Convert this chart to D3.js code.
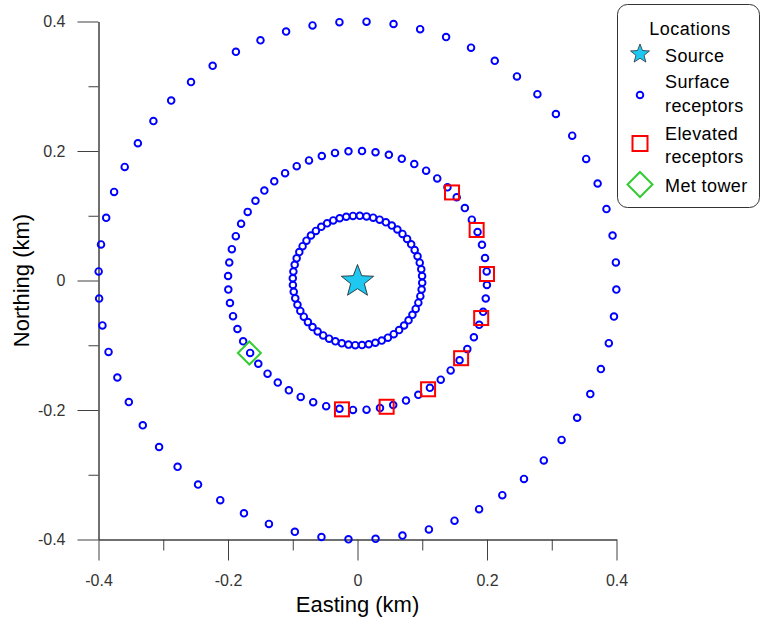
<!DOCTYPE html>
<html>
<head>
<meta charset="utf-8">
<script src="https://cdn.jsdelivr.net/npm/d3@7"></script>
<style>
  html, body { margin: 0; padding: 0; background: #fff; }
  svg { display: block; font-family: "Liberation Sans", Arial, sans-serif; }
</style>
</head>
<body>
<svg id="chart" width="761" height="617"></svg>
<script>
// ---- Receptor network (km, relative to the source) ----
// Polar receptor grid: ring distances and the compass bearings (deg) used on every ring
const ringRadiiKm = [0.1, 0.2, 0.4];
const gridBearings = [
  2, 8, 14, 20, 26, 32, 38, 44, 50, 56, 62, 68, 74, 80, 86, 92, 98, 104, 110, 116,
  122, 128, 134, 140, 146, 152, 158, 164, 170, 176, 182, 188, 194, 200, 206, 212,
  218, 224, 230, 236, 242, 248, 254, 260, 266, 272, 278, 284, 290, 296, 302, 308,
  314, 320, 326, 332, 338, 344, 350, 356
];

// Source location
const sourceX = [0];
const sourceY = [0];

// Elevated receptors
const elevatedX = [0.146, 0.184, 0.200, 0.191, 0.160, 0.109, 0.045, -0.024];
const elevatedY = [0.136, 0.078, 0.010, -0.058, -0.120, -0.168, -0.195, -0.199];

// Meteorological tower
const metX = [-0.167];
const metY = [-0.112];

// Axis ticks
const majorTicks = [-0.4, -0.2, 0, 0.2, 0.4];
const majorTickLabels = ["-0.4", "-0.2", "0", "0.2", "0.4"];
const minorTicks = [-0.3, -0.1, 0.1, 0.3];

const legendTitle = "Locations";
const legendItems = [
  { key: "source", lines: ["Source"] },
  { key: "surface", lines: ["Surface", "receptors"] },
  { key: "elevated", lines: ["Elevated", "receptors"] },
  { key: "met", lines: ["Met tower"] }
];

// ---- Styles ----
const surfaceColor = "#0000ff";
const elevatedColor = "#ff0000";
const metColor = "#33cc33";
const sourceColor = "#1ec8f0";
const axisColor = "#404040";
const tickTextColor = "#333";

const svg = d3.select("#chart");

const x = d3.scaleLinear().domain([-0.4, 0.4]).range([98.5, 616.5]);
const y = d3.scaleLinear().domain([-0.4, 0.4]).range([539.5, 21.5]);

// Surface receptor points from the polar grid
const surfacePts = [];
ringRadiiKm.forEach(r => {
  gridBearings.forEach(b => {
    const a = b * Math.PI / 180;
    surfacePts.push({ x: r * Math.sin(a), y: r * Math.cos(a) });
  });
});

function starPath(R, ri) {
  const pts = [];
  for (let i = 0; i < 10; i++) {
    const rad = i % 2 === 0 ? R : ri;
    const a = -Math.PI / 2 + i * Math.PI / 5;
    pts.push([rad * Math.cos(a), rad * Math.sin(a)]);
  }
  return "M" + pts.map(p => p[0].toFixed(2) + "," + p[1].toFixed(2)).join("L") + "Z";
}
function diamondPath(h) {
  return `M0,${-h}L${h},0L0,${h}L${-h},0Z`;
}

// ---- Axes ----
function styleAxis(g) {
  g.selectAll("path.domain").attr("stroke", axisColor).attr("stroke-width", 1);
  g.selectAll(".tick line").attr("stroke", axisColor).attr("stroke-width", 1);
  g.selectAll(".tick text")
    .attr("fill", tickTextColor)
    .style("font-size", "16px")
    .style("font-family", "'Liberation Sans', Arial, sans-serif");
}

const xAxisMajor = d3.axisBottom(x).tickValues(majorTicks)
  .tickFormat((d, i) => majorTickLabels[i]).tickSize(21).tickSizeOuter(0).tickPadding(14);
const xAxisMinor = d3.axisBottom(x).tickValues(minorTicks)
  .tickFormat("").tickSize(11).tickSizeOuter(0);
const yAxisMajor = d3.axisLeft(y).tickValues(majorTicks)
  .tickFormat((d, i) => majorTickLabels[i]).tickSize(21).tickSizeOuter(0).tickPadding(12);
const yAxisMinor = d3.axisLeft(y).tickValues(minorTicks)
  .tickFormat("").tickSize(10).tickSizeOuter(0);

const gx = svg.append("g").attr("transform", `translate(0,${y(-0.4)})`);
gx.append("g").call(xAxisMajor).call(styleAxis);
gx.append("g").call(xAxisMinor).call(styleAxis);

const gy = svg.append("g").attr("transform", `translate(${x(-0.4)},0)`);
gy.append("g").call(yAxisMajor).call(styleAxis);
gy.append("g").call(yAxisMinor).call(styleAxis);

svg.selectAll(".domain").attr("fill", "none");

// Axis titles
svg.append("text")
  .attr("x", x(0)).attr("y", 612)
  .attr("text-anchor", "middle")
  .style("font-size", "22px").attr("fill", "#000")
  .text("Easting (km)");

svg.append("text")
  .attr("transform", `translate(29,${y(0)}) rotate(-90)`)
  .attr("text-anchor", "middle")
  .style("font-size", "22px").attr("fill", "#000")
  .text("Northing (km)");

// ---- Marks ----
const plot = svg.append("g");

plot.selectAll("circle.surface")
  .data(surfacePts)
  .join("circle")
  .attr("class", "surface")
  .attr("cx", d => x(d.x))
  .attr("cy", d => y(d.y))
  .attr("r", 3.3)
  .attr("fill", "none")
  .attr("stroke", surfaceColor)
  .attr("stroke-width", 1.9);

plot.selectAll("rect.elevated")
  .data(elevatedX.map((v, i) => ({ x: v, y: elevatedY[i] })))
  .join("rect")
  .attr("class", "elevated")
  .attr("x", d => x(d.x) - 7)
  .attr("y", d => y(d.y) - 7)
  .attr("width", 14)
  .attr("height", 14)
  .attr("fill", "none")
  .attr("stroke", elevatedColor)
  .attr("stroke-width", 2);

plot.selectAll("path.met")
  .data(metX.map((v, i) => ({ x: v, y: metY[i] })))
  .join("path")
  .attr("class", "met")
  .attr("transform", d => `translate(${x(d.x)},${y(d.y)})`)
  .attr("d", diamondPath(11.5))
  .attr("fill", "none")
  .attr("stroke", metColor)
  .attr("stroke-width", 2);

plot.selectAll("path.source")
  .data(sourceX.map((v, i) => ({ x: v, y: sourceY[i] })))
  .join("path")
  .attr("class", "source")
  .attr("transform", d => `translate(${x(d.x)},${y(d.y) + 1})`)
  .attr("d", starPath(17, 7.2))
  .attr("fill", sourceColor)
  .attr("stroke", "#1a1a1a")
  .attr("stroke-width", 0.8);

// ---- Legend ----
const lg = svg.append("g");
lg.append("rect")
  .attr("x", 617.5).attr("y", 4.5)
  .attr("width", 142).attr("height", 203)
  .attr("rx", 10).attr("ry", 10)
  .attr("fill", "#fff")
  .attr("stroke", "#333").attr("stroke-width", 1);

lg.append("text")
  .attr("x", 690).attr("y", 34.5)
  .attr("text-anchor", "middle")
  .style("font-size", "18px").style("letter-spacing", "0.5px")
  .attr("fill", "#000")
  .text(legendTitle);

const rowBaselines = { source: [62], surface: [88, 111.5], elevated: [140, 162.5], met: [192] };
const iconY = { source: 53, surface: 95, elevated: 143.5, met: 184.5 };
const iconX = 640;
const textX = 665;

legendItems.forEach(item => {
  item.lines.forEach((ln, j) => {
    lg.append("text")
      .attr("x", textX).attr("y", rowBaselines[item.key][j])
      .style("font-size", "18px").style("letter-spacing", "0.4px")
      .attr("fill", "#000")
      .text(ln);
  });
  const cy = iconY[item.key];
  if (item.key === "source") {
    lg.append("path").attr("transform", `translate(${iconX},${cy + 1})`)
      .attr("d", starPath(10, 4.3))
      .attr("fill", sourceColor).attr("stroke", "#1a1a1a").attr("stroke-width", 0.7);
  } else if (item.key === "surface") {
    lg.append("circle").attr("cx", iconX).attr("cy", cy).attr("r", 3.3)
      .attr("fill", "none").attr("stroke", surfaceColor).attr("stroke-width", 1.9);
  } else if (item.key === "elevated") {
    lg.append("rect").attr("x", iconX - 7.5).attr("y", cy - 7.5)
      .attr("width", 15).attr("height", 15)
      .attr("fill", "none").attr("stroke", elevatedColor).attr("stroke-width", 2);
  } else {
    lg.append("path").attr("transform", `translate(${iconX},${cy})`)
      .attr("d", diamondPath(12.5))
      .attr("fill", "none").attr("stroke", metColor).attr("stroke-width", 2);
  }
});
</script>
</body>
</html>
